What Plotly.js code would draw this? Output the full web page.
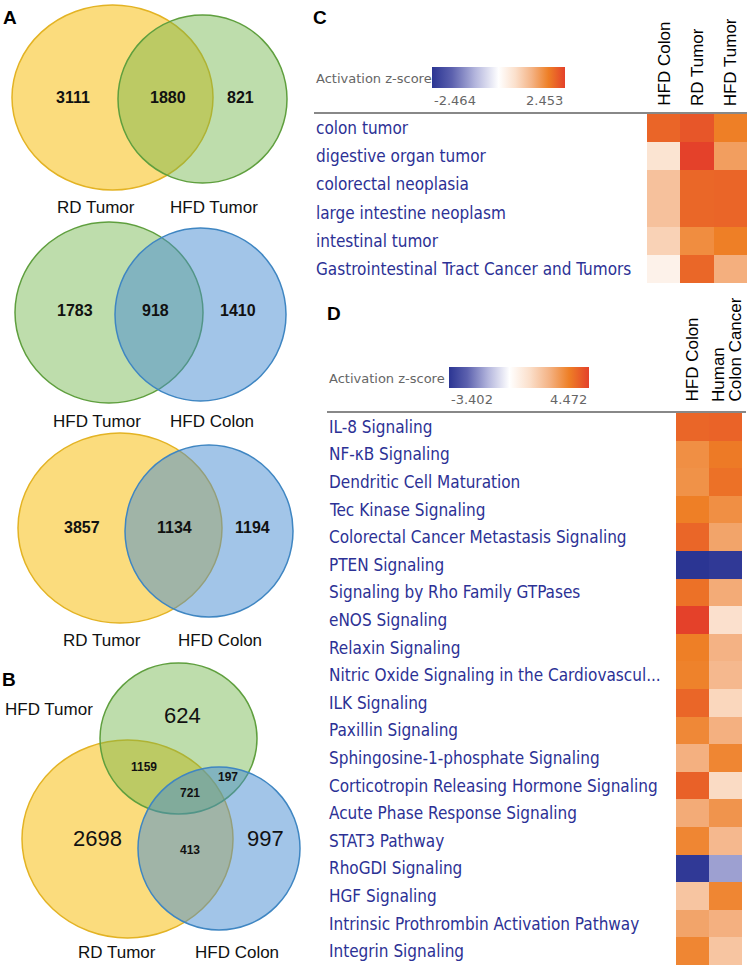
<!DOCTYPE html>
<html>
<head>
<meta charset="utf-8">
<script src="https://cdn.plot.ly/plotly-3.0.1.min.js"></script>
<style>
  html, body { margin: 0; padding: 0; background: #fff; }
  #figure { width: 750px; height: 967px; }
</style>
</head>
<body>
<div id="figure"></div>
<script>
// panel A: two-set overlaps [left only, both, right only]
let vennRdHfdTumor   = [3111, 1880, 821];
let vennHfdTumorColon = [1783, 918, 1410];
let vennRdTumorHfdColon = [3857, 1134, 1194];

let namesRdHfdTumor    = ['RD Tumor', 'HFD Tumor'];
let namesHfdTumorColon = ['HFD Tumor', 'HFD Colon'];
let namesRdHfdColon    = ['RD Tumor', 'HFD Colon'];

// panel B: three-set overlap
let venn3Names  = ['HFD Tumor', 'RD Tumor', 'HFD Colon'];
let venn3Regions = ['HFD Tumor only', 'RD+HFD Tumor', 'HFD Tumor+Colon', 'all', 'RD only', 'RD+HFD Colon', 'HFD Colon only'];
let venn3Counts  = [624, 1159, 197, 721, 2698, 413, 997];

// panel C: disease z-scores
let cCols = ['HFD Colon', 'RD Tumor', 'HFD Tumor'];
let cRows = [
    'colon tumor',
    'digestive organ tumor',
    'colorectal neoplasia',
    'large intestine neoplasm',
    'intestinal tumor',
    'Gastrointestinal Tract Cancer and Tumors'
];
let cZ = [
    [2.10, 2.25, 1.84],
    [0.54, 2.453, 1.47],
    [1.03, 2.08, 2.10],
    [1.03, 2.08, 2.10],
    [0.80, 1.67, 1.84],
    [0.25, 2.08, 1.27]
];
let cRange = [-2.464, 2.453];

// panel D: pathway z-scores
let dCols = ['HFD Colon', 'Human Colon Cancer'];
let dColLines = [['HFD Colon'], ['Human', 'Colon Cancer']];
let dRows = [
    'IL-8 Signaling',
    'NF-κB Signaling',
    'Dendritic Cell Maturation',
    'Tec Kinase Signaling',
    'Colorectal Cancer Metastasis Signaling',
    'PTEN Signaling',
    'Signaling by Rho Family GTPases',
    'eNOS Signaling',
    'Relaxin Signaling',
    'Nitric Oxide Signaling in the Cardiovascul...',
    'ILK Signaling',
    'Paxillin Signaling',
    'Sphingosine-1-phosphate Signaling',
    'Corticotropin Releasing Hormone Signaling',
    'Acute Phase Response Signaling',
    'STAT3 Pathway',
    'RhoGDI Signaling',
    'HGF Signaling',
    'Intrinsic Prothrombin Activation Pathway',
    'Integrin Signaling'
];
let dZ = [
    [3.80, 3.85],
    [3.00, 3.45],
    [2.95, 3.60],
    [3.35, 3.00],
    [3.80, 2.55],
    [-3.402, -3.30],
    [3.60, 2.40],
    [4.472, 1.10],
    [3.35, 2.25],
    [3.30, 2.10],
    [3.80, 1.35],
    [3.15, 2.30],
    [2.30, 3.20],
    [3.90, 1.25],
    [2.40, 2.90],
    [3.20, 2.10],
    [-3.30, -1.50],
    [1.80, 3.20],
    [2.55, 2.30],
    [3.20, 1.80]
];
let dRange = [-3.402, 4.472];

// pixel -> paper helpers
const W = 750, H = 967;
const px = x => x / W;
const py = y => 1 - y / H;

const LABEL_FONT = 'Liberation Sans, Arial, sans-serif';
const IPA_FONT = 'DejaVu Sans Condensed, DejaVu Sans, sans-serif';
const IPA_BLUE = '#2c3195';

// blue -> white -> orange/red, white pinned at z = 0
function zScale(range) {
    let zmin = range[0], zmax = range[1];
    let p0 = -zmin / (zmax - zmin);
    let neg = [[1, '#2b3593'], [0.7, '#5c61ae'], [0.35, '#b4b6dd'], [0, '#ffffff']];
    let pos = [[0.25, '#fbe0cc'], [0.5, '#f4b385'], [0.75, '#ee7f26'], [1, '#e4412a']];
    let scale = neg.map(s => [p0 * (1 - s[0]), s[1]]);
    pos.forEach(s => scale.push([p0 + s[0] * (1 - p0), s[1]]));
    return scale;
}

let YELLOW = { fill: 'rgba(248,196,38,0.6)',  line: '#e3b324' };
let GREEN  = { fill: 'rgba(110,180,70,0.45)', line: '#5f9f3e' };
let BLUE   = { fill: 'rgba(70,140,210,0.5)',  line: '#3f86c2' };

function circle(box, col) {
    return {
        type: 'circle', xref: 'paper', yref: 'paper',
        x0: px(box[0]), x1: px(box[1]), y0: py(box[3]), y1: py(box[2]),
        fillcolor: col.fill, line: { color: col.line, width: 1.5 }
    };
}

function txt(text, x, y, size, opts) {
    return Object.assign({
        text: String(text), xref: 'paper', yref: 'paper',
        x: px(x), y: py(y), showarrow: false,
        xanchor: 'center', yanchor: 'middle',
        font: { family: LABEL_FONT, size: size, color: '#111' }
    }, opts || {});
}

let shapes = [];
let annotations = [];

// two-set venns: [circle boxes], number positions, name positions
function addVenn2(counts, names, boxA, colA, boxB, colB, numX, numY, nameX, nameY) {
    shapes.push(circle(boxA, colA));
    shapes.push(circle(boxB, colB));
    counts.forEach((c, i) => {
        annotations.push(txt(c, numX[i], numY, 16, { font: { family: LABEL_FONT, size: 16, color: '#111', weight: 'bold' } }));
    });
    names.forEach((n, i) => annotations.push(txt(n, nameX[i], nameY, 17)));
}

addVenn2(vennRdHfdTumor, namesRdHfdTumor,
    [12, 213, 5, 190], YELLOW, [118, 287, 15, 183], GREEN,
    [73, 168, 240], 97, [96, 214], 207);

addVenn2(vennHfdTumorColon, namesHfdTumorColon,
    [15, 203, 222, 403], GREEN, [115, 286, 228, 401], BLUE,
    [75, 155, 238], 310, [97, 212], 421);

addVenn2(vennRdTumorHfdColon, namesRdHfdColon,
    [18, 222, 433, 623], YELLOW, [125, 293, 445, 617], BLUE,
    [82, 174, 252], 527, [102, 220], 640);

// three-set venn
shapes.push(circle([22, 233, 740, 938], YELLOW));
shapes.push(circle([100, 257, 663, 814], GREEN));
shapes.push(circle([138, 300, 767, 930], BLUE));

let venn3Pos = [[182, 715, 22], [144, 767, 12], [228, 777, 12], [190, 793, 12], [97, 838, 22], [190, 850, 12], [265, 838, 22]];
venn3Counts.forEach((c, i) => {
    let p = venn3Pos[i];
    let small = p[2] < 16;
    annotations.push(txt(c, p[0], p[1], p[2], { font: { family: LABEL_FONT, size: p[2], color: '#111', weight: small ? 'bold' : 'normal' } }));
});
annotations.push(txt(venn3Names[0], 3, 709, 17, { xanchor: 'left' }));
annotations.push(txt(venn3Names[1], 117, 952, 17));
annotations.push(txt(venn3Names[2], 237, 952, 17));

// panel letters
[['A', 10, 17], ['B', 9, 679], ['C', 320, 17], ['D', 334, 313]].forEach(l => {
    annotations.push(txt(l[0], l[1], l[2], 19, { font: { family: LABEL_FONT, size: 19, color: '#000', weight: 'bold' } }));
});

// heatmap legends and separators
function addLegend(x0, x1, yBar, yTick, xText, range) {
    let f = size => ({ family: 'DejaVu Sans, sans-serif', size: size, color: '#666' });
    annotations.push(txt('Activation z-score', xText, yBar, 13, { xanchor: 'left', font: f(13) }));
    annotations.push(txt(range[0].toFixed(3), x0, yTick, 13, { xanchor: 'left', font: f(13) }));
    annotations.push(txt(range[1].toFixed(3), x1, yTick, 13, { xanchor: 'right', font: f(13) }));
}
addLegend(432, 565, 78, 100, 314, cRange);
addLegend(449, 589, 378, 399, 327, dRange);

shapes.push({ type: 'line', xref: 'paper', yref: 'paper', x0: px(314), x1: px(747), y0: py(113), y1: py(113), line: { color: '#888', width: 2 } });
shapes.push({ type: 'line', xref: 'paper', yref: 'paper', x0: px(327), x1: px(746), y0: py(412), y1: py(412), line: { color: '#888', width: 2 } });

// row labels
cRows.forEach(r => annotations.push({
    text: r, xref: 'paper', yref: 'y', x: px(314), y: r, xanchor: 'left', yanchor: 'middle', showarrow: false,
    font: { family: IPA_FONT, size: 17, color: IPA_BLUE }
}));
dRows.forEach(r => annotations.push({
    text: r, xref: 'paper', yref: 'y2', x: px(327), y: r, xanchor: 'left', yanchor: 'middle', showarrow: false,
    font: { family: IPA_FONT, size: 17, color: IPA_BLUE }
}));

// column headers
cCols.forEach(c => annotations.push({
    text: c, xref: 'x', yref: 'paper', x: c, y: py(108), textangle: -90, xanchor: 'center', yanchor: 'bottom', showarrow: false,
    font: { family: LABEL_FONT, size: 17, color: '#000' }
}));
dCols.forEach((c, i) => {
    let lines = dColLines[i];
    lines.forEach((t, j) => annotations.push({
        text: t, xref: 'x2', yref: 'paper', x: c, y: py(404), textangle: -90,
        xshift: lines.length > 1 ? (j === 0 ? -7 : 9) : -1,
        xanchor: 'center', yanchor: 'bottom', showarrow: false,
        font: { family: LABEL_FONT, size: 17, color: '#000' }
    }));
});

function colorbarAt(x0, x1, yTop) {
    return {
        orientation: 'h', x: px(x1), xanchor: 'right', y: py(yTop), yanchor: 'top',
        lenmode: 'pixels', len: x1 - x0, thicknessmode: 'pixels', thickness: 21,
        xpad: 0, ypad: 0, outlinewidth: 0, showticklabels: false, ticks: ''
    };
}

let traceC = {
    type: 'heatmap', x: cCols, y: cRows, z: cZ,
    zmin: cRange[0], zmax: cRange[1], colorscale: zScale(cRange),
    xaxis: 'x', yaxis: 'y', colorbar: colorbarAt(432, 565, 67), hoverinfo: 'x+y+z'
};
let traceD = {
    type: 'heatmap', x: dCols, y: dRows, z: dZ,
    zmin: dRange[0], zmax: dRange[1], colorscale: zScale(dRange),
    xaxis: 'x2', yaxis: 'y2', colorbar: colorbarAt(449, 589, 367), hoverinfo: 'x+y+z'
};

let hidden = { showgrid: false, zeroline: false, showticklabels: false, ticks: '', showline: false, fixedrange: true };

let layout = {
    width: W, height: H,
    margin: { l: 0, r: 0, t: 0, b: 0 },
    paper_bgcolor: '#fff', plot_bgcolor: '#fff',
    showlegend: false,
    xaxis:  Object.assign({ domain: [px(647), px(747)], anchor: 'y' }, hidden),
    yaxis:  Object.assign({ domain: [py(283), py(114)], anchor: 'x', autorange: 'reversed' }, hidden),
    xaxis2: Object.assign({ domain: [px(676), px(746)], anchor: 'y2' }, hidden),
    yaxis2: Object.assign({ domain: [py(965), py(413)], anchor: 'x2', autorange: 'reversed' }, hidden),
    shapes: shapes,
    annotations: annotations
};

Plotly.newPlot('figure', [traceC, traceD], layout, { displayModeBar: false });
</script>
</body>
</html>
